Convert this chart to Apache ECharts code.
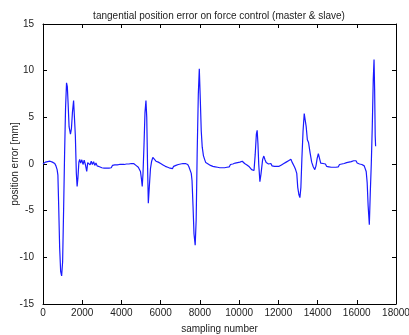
<!DOCTYPE html>
<html>
<head>
<meta charset="utf-8">
<script src="https://cdn.jsdelivr.net/npm/echarts@6/dist/echarts.min.js"></script>
<style>
  html, body { margin: 0; padding: 0; background: #fff; }
  #chart { width: 409px; height: 335px; }
</style>
</head>
<body>
<div id="chart"></div>
<script>
// sample index (x) and position error in mm (y), segment by segment
const startX = [0, 60, 120, 180, 240, 300, 360, 420, 480, 540, 600, 660, 720];
const startY = [0.0, 0.1, 0.2, 0.15, 0.25, 0.2, 0.3, 0.25, 0.2, 0.15, 0.05, -0.2, -0.6];

const spike1X = [760, 800, 850, 900, 950, 1000, 1050, 1100, 1150, 1200, 1240, 1280, 1330, 1400, 1450, 1500, 1560, 1610, 1650, 1700, 1740, 1780, 1830, 1870];
const spike1Y = [-1.2, -4.5, -9.0, -11.5, -12.0, -10.5, -5.0, 1.0, 6.0, 8.7, 8.3, 6.5, 4.0, 3.2, 3.8, 5.5, 6.8, 6.6, 3.0, -1.0, -2.4, -1.5, 0.2, 0.5];

const flat1X = [1920, 1980, 2040, 2100, 2160, 2230, 2280, 2340, 2400, 2460, 2520, 2580, 2640, 2700, 2760, 2820, 2880, 2940, 3000, 3060, 3120, 3180, 3240, 3300, 3360, 3420, 3480, 3540, 3600, 3660, 3720, 3780, 3840, 3900, 3960, 4020, 4080, 4140, 4200, 4260, 4320, 4380, 4440, 4500, 4560, 4620, 4680, 4740, 4800, 4860, 4920];
const flat1Y = [0.1, 0.45, -0.05, 0.4, -0.05, -0.8, 0.15, 0.35, -0.1, 0.3, -0.05, 0.25, -0.15, 0.1, -0.2, 0.0, -0.3, -0.1, -0.4, -0.2, -0.45, -0.25, -0.45, -0.25, -0.45, -0.25, -0.4, -0.15, -0.35, -0.1, -0.3, -0.1, -0.25, -0.05, -0.25, -0.05, -0.25, -0.05, -0.2, 0.0, -0.2, 0.0, -0.15, 0.05, -0.15, 0.05, -0.1, -0.15, -0.25, -0.35, -0.5];

const spike2X = [4970, 5020, 5060, 5100, 5150, 5200, 5250, 5290, 5330, 5370, 5420, 5480, 5540, 5600, 5640];
const spike2Y = [-0.8, -1.6, -2.4, -1.0, 2.0, 5.5, 6.8, 5.0, 0.0, -4.2, -2.5, -0.5, 0.3, 0.7, 0.5];

const flat2X = [5700, 5760, 5820, 5880, 5940, 6000, 6060, 6120, 6180, 6240, 6300, 6360, 6420, 6480, 6540, 6600, 6660, 6720, 6780, 6840, 6900, 6960, 7020, 7080, 7140, 7200, 7260, 7320, 7380, 7440, 7500];
const flat2Y = [0.6, 0.3, 0.5, 0.2, 0.35, 0.05, 0.2, -0.1, 0.05, -0.25, -0.1, -0.35, -0.2, -0.45, -0.25, -0.5, -0.25, -0.4, -0.15, -0.3, -0.05, -0.25, 0.0, -0.2, 0.05, -0.15, 0.05, -0.1, -0.05, -0.3, -0.5];

const spike3X = [7560, 7600, 7650, 7700, 7760, 7810, 7860, 7920, 7970, 8020, 8070, 8120, 8180, 8240];
const spike3Y = [-1.0, -1.8, -4.5, -7.5, -8.7, -6.0, 1.0, 7.5, 10.2, 7.0, 3.5, 1.8, 0.9, 0.5];

const flat3X = [8300, 8360, 8420, 8480, 8540, 8600, 8660, 8720, 8780, 8840, 8900, 8960, 9020, 9080, 9140, 9200, 9260, 9320, 9380, 9440, 9500, 9560, 9620, 9680, 9740, 9800, 9860, 9920, 9980, 10040, 10100, 10160, 10220, 10280, 10340, 10400, 10460, 10520, 10580, 10640];
const flat3Y = [0.15, 0.35, 0.0, 0.15, -0.15, 0.0, -0.25, -0.05, -0.3, -0.1, -0.35, -0.15, -0.4, -0.2, -0.4, -0.2, -0.4, -0.2, -0.35, -0.15, -0.3, -0.05, -0.25, 0.0, -0.15, 0.1, -0.1, 0.15, -0.05, 0.2, 0.0, 0.3, 0.35, 0.05, 0.2, -0.1, -0.05, -0.3, -0.4, -0.6];

const spike4X = [10700, 10760, 10820, 10880, 10920, 10960, 11000, 11060, 11120, 11200, 11260, 11320];
const spike4Y = [-0.5, -0.7, 1.0, 3.2, 3.6, 2.2, 0.0, -1.9, -1.0, 0.5, 0.85, 0.45];

const flat4X = [11380, 11440, 11500, 11560, 11620, 11680, 11740, 11800, 11860, 11920, 11980, 12040, 12100, 12160, 12220, 12280, 12340, 12400, 12460, 12520, 12580, 12640, 12700, 12760, 12820, 12880];
const flat4Y = [0.15, 0.35, 0.0, -0.15, 0.05, -0.2, 0.0, -0.25, -0.05, -0.25, -0.05, -0.25, -0.1, -0.1, 0.05, 0.05, 0.1, 0.2, 0.25, 0.35, 0.3, 0.5, 0.2, 0.1, -0.3, -0.6];

const spike5X = [12940, 12990, 13050, 13100, 13150, 13200, 13260, 13320, 13360, 13420, 13480, 13540, 13620, 13700, 13780, 13860, 13920, 13980, 14040, 14100, 14160, 14220];
const spike5Y = [-1.0, -2.5, -3.3, -3.6, -2.5, 0.5, 3.5, 5.4, 5.2, 4.0, 2.6, 2.3, 1.2, 0.2, -0.3, -0.6, -0.2, 0.6, 1.1, 0.6, 0.1, 0.07];

const flat5X = [14280, 14340, 14400, 14460, 14520, 14580, 14640, 14700, 14760, 14820, 14880, 14940, 15000, 15060, 15120, 15180, 15240, 15300, 15360, 15420, 15480, 15540, 15600, 15660, 15720, 15780, 15840, 15900, 15960, 16020, 16080, 16140, 16200, 16260, 16320, 16380, 16430];
const flat5Y = [0.05, -0.15, 0.0, -0.25, -0.05, -0.3, -0.1, -0.35, -0.15, -0.35, -0.2, -0.35, -0.15, -0.3, -0.05, -0.2, 0.0, -0.15, 0.05, -0.1, 0.15, 0.0, 0.2, 0.05, 0.25, 0.1, 0.35, 0.15, 0.35, 0.1, 0.25, 0.0, 0.15, -0.05, -0.1, -0.2, -0.4];

const spike6X = [16480, 16530, 16580, 16640, 16690, 16740, 16790, 16840, 16880, 16910, 16940, 16960];
const spike6Y = [-0.8, -2.0, -4.5, -6.5, -3.0, 0.0, 4.0, 9.0, 11.2, 8.0, 3.0, 1.9];

const xTicks = [0, 2000, 4000, 6000, 8000, 10000, 12000, 14000, 16000, 18000];
const yTicks = [-15, -10, -5, 0, 5, 10, 15];

const samples = [].concat(startX, spike1X, flat1X, spike2X, flat2X, spike3X, flat3X, spike4X, flat4X, spike5X, flat5X, spike6X);
const posError = [].concat(startY, spike1Y, flat1Y, spike2Y, flat2Y, spike3Y, flat3Y, spike4Y, flat4Y, spike5Y, flat5Y, spike6Y);

const chart = echarts.init(document.getElementById("chart"), null, { renderer: "canvas" });
const FONT = "Liberation Sans";
const TXT = "#222";
const frameLine = { show: true, onZero: false, lineStyle: { color: "#000", width: 1 } };
const insideTick = { show: true, inside: true, length: 4, lineStyle: { color: "#000" } };

const option = {
  animation: false,
  backgroundColor: "#fff",
  title: {
    text: "tangential position error on force control (master & slave)",
    left: 214,
    textAlign: "center",
    top: 6,
    textStyle: { fontFamily: FONT, fontSize: 10, fontWeight: "normal", color: TXT }
  },
  grid: { left: 43, right: 13, top: 24, bottom: 31, outerBoundsMode: "none", containLabel: false },
  xAxis: [
    {
      type: "value",
      min: xTicks[0],
      max: xTicks[xTicks.length - 1],
      interval: 2000,
      name: "sampling number",
      nameLocation: "middle",
      nameGap: 20,
      nameMoveOverlap: false,
      nameTextStyle: { fontFamily: FONT, fontSize: 10, color: TXT },
      axisLine: frameLine,
      axisTick: insideTick,
      axisLabel: { fontFamily: FONT, fontSize: 10, color: TXT, margin: 4, formatter: v => String(v) },
      splitLine: { show: false }
    },
    {
      type: "value",
      position: "top",
      min: xTicks[0],
      max: xTicks[xTicks.length - 1],
      interval: 2000,
      axisLine: frameLine,
      axisTick: insideTick,
      axisLabel: { show: false },
      splitLine: { show: false }
    }
  ],
  yAxis: [
    {
      type: "value",
      min: yTicks[0],
      max: yTicks[yTicks.length - 1],
      interval: 5,
      name: "position error [mm]",
      nameLocation: "middle",
      nameGap: 23,
      nameMoveOverlap: false,
      nameTextStyle: { fontFamily: FONT, fontSize: 10, color: TXT },
      axisLine: frameLine,
      axisTick: insideTick,
      axisLabel: { fontFamily: FONT, fontSize: 10, color: TXT, margin: 9 },
      splitLine: { show: false }
    },
    {
      type: "value",
      position: "right",
      min: yTicks[0],
      max: yTicks[yTicks.length - 1],
      interval: 5,
      axisLine: frameLine,
      axisTick: insideTick,
      axisLabel: { show: false },
      splitLine: { show: false }
    }
  ],
  series: [
    {
      type: "line",
      data: samples.map((s, i) => [s, posError[i]]),
      showSymbol: false,
      symbol: "none",
      lineStyle: { color: "#1a1aff", width: 1.2 },
      z: 3
    }
  ]
};
chart.setOption(option);
</script>
</body>
</html>
